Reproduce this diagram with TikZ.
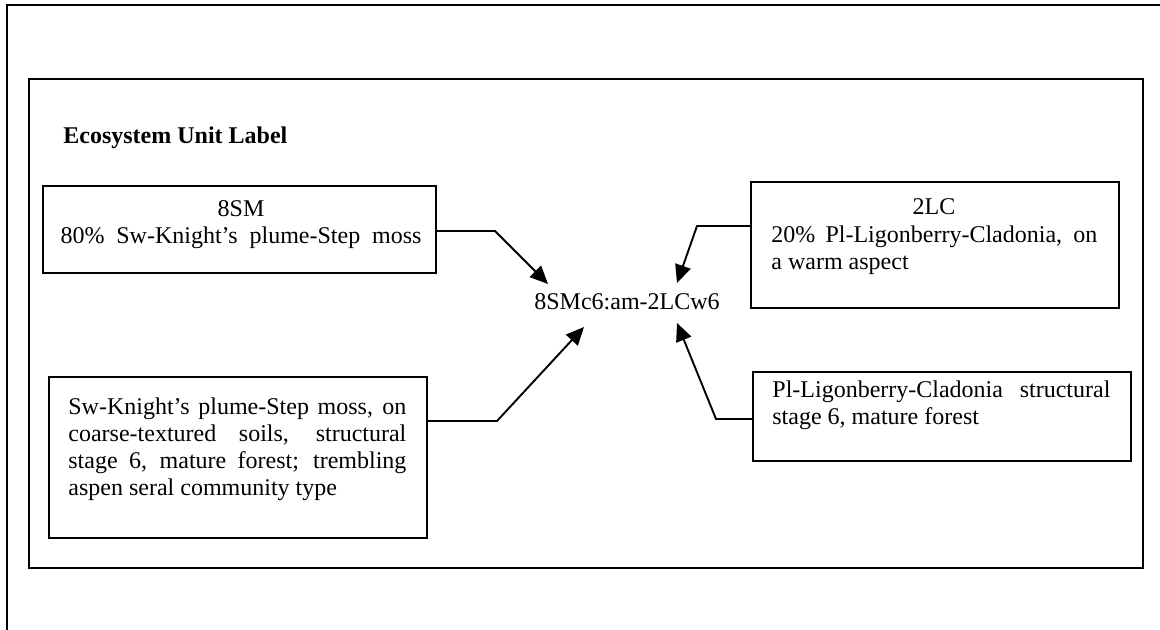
\documentclass[tikz,border=0pt]{standalone}
\usepackage{fontspec}
\setmainfont{Liberation Serif}
\usetikzlibrary{arrows.meta,fit}
\begin{document}
\begin{tikzpicture}[x=0.5pt,y=-0.5pt,
  framebox/.style={draw, line width=1.1pt, inner sep=0pt},
  unitbox/.style={draw, line width=0.95pt, inner sep=0pt},
  arr/.style={line width=0.95pt, -{Triangle[length=9pt,width=8pt]}},
  txt/.style={inner sep=0pt, anchor=base west, font=\fontsize{12}{13.5}\selectfont},
  ctxt/.style={txt, anchor=base},
]
\useasboundingbox (0,0) rectangle (1160,630);
% outer frame (only top and left edges inside the picture)
\draw[line width=1.1pt] (1163,5) -- (7,5) -- (7,633);
% inner frame
\node[framebox, fit={(29,79) (1143,568)}] (inner) {};
\node[txt, font=\bfseries\fontsize{12}{13.5}\selectfont] (title) at (63,144) {Ecosystem Unit Label};

% box 1
\node[unitbox, fit={(43,186) (436,273)}] (b1) {};
\node[ctxt] (b1l1) at (241,217) {8SM};
\node[ctxt] (b1l2) at (241,244) {\makebox[180.5pt][s]{80\% Sw-Knight’s plume-Step moss}};

% box 2
\node[unitbox, fit={(751,182) (1119,308)}] (b2) {};
\node[ctxt] (b2l1) at (934,215) {2LC};
\node[txt] (b2l2) at (771,243) {\makebox[163pt][s]{20\% Pl-Ligonberry-Cladonia, on}};
\node[txt] (b2l3) at (771,270) {a warm aspect};

% box 3
\node[unitbox, fit={(49,377) (427,538)}] (b3) {};
\node[txt] (b3l1) at (68,414) {\makebox[169pt][s]{Sw-Knight’s plume-Step moss, on}};
\node[txt] (b3l2) at (68,441) {\makebox[169pt][s]{coarse-textured soils, structural}};
\node[txt] (b3l3) at (68,468) {\makebox[169pt][s]{stage 6, mature forest; trembling}};
\node[txt] (b3l4) at (68,495) {aspen seral community type};

% box 4
\node[unitbox, fit={(753,372) (1131,461)}] (b4) {};
\node[txt] (b4l1) at (772,397) {\makebox[169pt][s]{Pl-Ligonberry-Cladonia structural}};
\node[txt] (b4l2) at (772,424) {stage 6, mature forest};

% central label
\node[ctxt] (lab) at (627,309) {8SMc6:am-2LCw6};

% connector bends and tips
\coordinate (k1) at (495,231);
\coordinate (t1) at (548,284);
\coordinate (k2) at (697,226);
\coordinate (t2) at (677,283);
\coordinate (k3) at (497,421);
\coordinate (t3) at (584,327);
\coordinate (k4) at (716,419);
\coordinate (t4) at (677,323);

\draw[arr] (k1 -| b1.east) -- (k1) -- (t1);
\draw[arr] (k2 -| b2.west) -- (k2) -- (t2);
\draw[arr] (k3 -| b3.east) -- (k3) -- (t3);
\draw[arr] (k4 -| b4.west) -- (k4) -- (t4);
\end{tikzpicture}
\end{document}
